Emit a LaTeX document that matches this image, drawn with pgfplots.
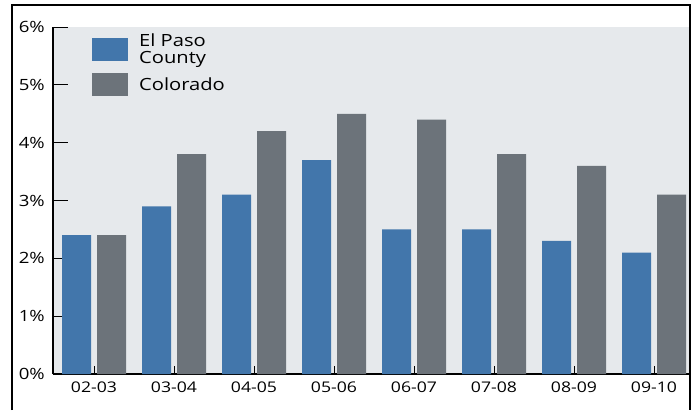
\documentclass[border=0pt]{standalone}
\usepackage{fontspec}
\setmainfont{Open Sans}[FakeStretch=1.2]
\usepackage{pgfplots}
\pgfplotsset{compat=1.18}
\definecolor{epblue}{RGB}{66,118,171}
\definecolor{cogray}{RGB}{108,115,122}
\definecolor{bggray}{RGB}{230,233,236}

\begin{document}
\begin{tikzpicture}[x=1pt,y=1pt]
\path[use as bounding box] (0,0) rectangle (696,410);
\begin{axis}[
    at={(53pt,36pt)}, anchor=south west,
    scale only axis, width=636pt, height=347pt,
    ybar=6pt, bar width=29pt,
    xmin=-0.5125, xmax=7.4375, ymin=0, ymax=6,
    axis background/.style={fill=bggray},
    axis x line*=bottom, axis y line*=left,
    axis line style={line width=1.2pt, -},
    xtick={0,...,7},
    xticklabels={02-03,03-04,04-05,05-06,06-07,07-08,08-09,09-10},
    ytick={0,...,6},
    yticklabels={0\%,1\%,2\%,3\%,4\%,5\%,6\%},
    tick align=inside,
    x tick style={black, line width=1pt, /pgfplots/major tick length=8pt},
    y tick style={black, line width=1pt, /pgfplots/major tick length=15pt},
    ticklabel style={font=\fontsize{14.7}{17}\selectfont},
    yticklabel style={font=\fontsize{15.5}{17}\selectfont, inner sep=0pt, xshift=-8pt},
    xticklabel style={inner sep=0pt, yshift=-8pt},
    legend style={at={(0.0613,0.986)}, anchor=north west, draw=none, fill=none,
        inner sep=0pt, row sep=6pt, font=\fontsize{16.8}{17}\selectfont,
        cells={anchor=west, align=left},
        /tikz/every odd column/.append style={column sep=9pt}},
    legend image code/.code={\fill[#1] (0pt,-11.5pt) rectangle (36pt,11.5pt);},
]
\addplot[draw=none, fill=epblue] coordinates {
    (0,2.4)(1,2.9)(2,3.1)(3,3.7)(4,2.5)(5,2.5)(6,2.3)(7,2.1)};
\addplot[draw=none, fill=cogray] coordinates {
    (0,2.4)(1,3.8)(2,4.2)(3,4.5)(4,4.4)(5,3.8)(6,3.6)(7,3.1)};
\legend{El Paso\\County, Colorado}
\end{axis}
\draw[line width=2.2pt] (12,0) -- (12,405) -- (690,405) -- (690,0);
\end{tikzpicture}
\end{document}
